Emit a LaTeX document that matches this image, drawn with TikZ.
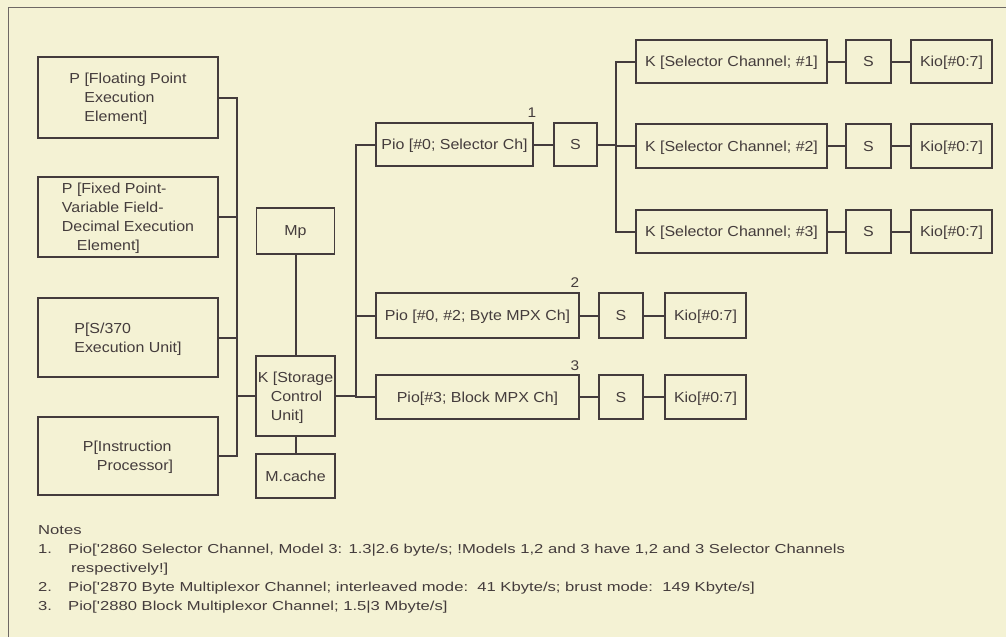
\documentclass[tikz,border=0pt]{standalone}
\usepackage{fontspec}
\setmainfont{Liberation Sans}[FakeStretch=1.1]
\newfontfamily\notefont[FakeStretch=1.28]{Liberation Sans}
\usetikzlibrary{calc}
\definecolor{bg}{RGB}{244,242,212}
\definecolor{ink}{RGB}{68,60,60}
\definecolor{framec}{RGB}{110,104,100}
\tikzset{
  box/.style={draw=ink, line width=1.2pt, inner sep=0pt, text=ink, align=left,
              text depth=0pt, font=\fontsize{14.5}{19}\selectfont},
  wire/.style={draw=ink, line width=2pt},
  lbl/.style={text=ink, inner sep=0pt, font=\fontsize{14}{14}\selectfont},
  framel/.style={draw=framec, line width=1pt}
}
\begin{document}
\begin{tikzpicture}[x=1pt,y=-1pt]
\fill[bg] (0,0) rectangle (1006,637);
\useasboundingbox (0,0) rectangle (1006,637);
\draw[framel] (8,637) -- (8,7) -- (1006,7);

% left processors
\node[box, minimum width=180pt, minimum height=81pt] (FP) at (128,97.5)
  {P [Floating Point\\\hspace*{15pt}Execution\\\hspace*{15pt}Element]};
\node[box, minimum width=180pt, minimum height=80pt] (FX) at (128,217)
  {P [Fixed Point-\\Variable Field-\\Decimal Execution\\\hspace*{15pt}Element]};
\node[box, minimum width=180pt, minimum height=79pt] (S370) at (128,337.5)
  {P[S/370\\Execution Unit]};
\node[box, minimum width=180pt, minimum height=78pt] (IP) at (128,456)
  {P[Instruction\\\hspace*{14pt}Processor]};

% memory / control
\node[box, minimum width=78pt, minimum height=46pt] (Mp) at (295.5,231) {Mp};
\node[box, minimum width=79pt, minimum height=80pt] (KSC) at (295.5,396)
  {K [Storage\\\hspace*{13pt}Control\\\hspace*{13pt}Unit]};
\node[box, minimum width=79pt, minimum height=44pt] (MC) at (295.5,476) {M.cache};

% Pio row 1
\node[box, minimum width=157pt, minimum height=43pt] (Pio0) at (454.5,144.5) {Pio [\#0; Selector Ch]};
\node[box, minimum width=43pt, minimum height=43pt] (S1) at (575.5,144.5) {S};

\node[box, minimum width=191pt, minimum height=43pt] (Kc1) at (731.5,61.5) {K [Selector Channel; \#1]};
\node[box, minimum width=45pt, minimum height=43pt] (Sc1) at (868.5,61.5) {S};
\node[box, minimum width=81pt, minimum height=43pt] (Kio1) at (951.5,61.5) {Kio[\#0:7]};

\node[box, minimum width=191pt, minimum height=44pt] (Kc2) at (731.5,146) {K [Selector Channel; \#2]};
\node[box, minimum width=45pt, minimum height=44pt] (Sc2) at (868.5,146) {S};
\node[box, minimum width=81pt, minimum height=44pt] (Kio2) at (951.5,146) {Kio[\#0:7]};

\node[box, minimum width=191pt, minimum height=43pt] (Kc3) at (731.5,231.5) {K [Selector Channel; \#3]};
\node[box, minimum width=45pt, minimum height=43pt] (Sc3) at (868.5,231.5) {S};
\node[box, minimum width=81pt, minimum height=43pt] (Kio3) at (951.5,231.5) {Kio[\#0:7]};

% Pio row 2
\node[box, minimum width=203pt, minimum height=45pt] (Pio2) at (477.5,315.5) {Pio [\#0, \#2; Byte MPX Ch]};
\node[box, minimum width=44pt, minimum height=45pt] (S2) at (621,315.5) {S};
\node[box, minimum width=81pt, minimum height=45pt] (Kio4) at (705.5,315.5) {Kio[\#0:7]};

% Pio row 3
\node[box, minimum width=203pt, minimum height=44pt] (Pio3) at (477.5,397) {Pio[\#3; Block MPX Ch]};
\node[box, minimum width=44pt, minimum height=44pt] (S3) at (621,397) {S};
\node[box, minimum width=81pt, minimum height=44pt] (Kio5) at (705.5,397) {Kio[\#0:7]};

% note labels
\node[lbl] (n1) at (532,113) {1};
\node[lbl] (n2) at (575,283) {2};
\node[lbl] (n3) at (575,366) {3};

% bus coordinates
\coordinate (bL) at (237,0);
\coordinate (bM) at (356,0);
\coordinate (bR) at (616,0);

% connectors
\draw[wire] (FP.east) -| (bL |- IP.east) -- (IP.east);
\draw[wire] (FX.east) -- (FX.east -| bL);
\draw[wire] (S370.east) -- (S370.east -| bL);
\draw[wire] (KSC.west) -- (KSC.west -| bL);
\draw[wire] (Mp.south) -- (Mp.south |- KSC.north);
\draw[wire] (KSC.south) -- (KSC.south |- MC.north);

\draw[wire] (Pio0.west) -| (bM |- Pio3.west) -- (Pio3.west);
\draw[wire] (Pio2.west) -- (Pio2.west -| bM);
\draw[wire] (KSC.east) -- (KSC.east -| bM);

\draw[wire] (Pio0.east) -- (S1.west);
\draw[wire] (Kc1.west) -| (bR |- Kc3.west) -- (Kc3.west);
\draw[wire] (Kc2.west) -- (Kc2.west -| bR);
\draw[wire] (S1.east) -- (S1.east -| bR);

\draw[wire] (Kc1.east) -- (Sc1.west);
\draw[wire] (Sc1.east) -- (Kio1.west);
\draw[wire] (Kc2.east) -- (Sc2.west);
\draw[wire] (Sc2.east) -- (Kio2.west);
\draw[wire] (Kc3.east) -- (Sc3.west);
\draw[wire] (Sc3.east) -- (Kio3.west);

\draw[wire] (Pio2.east) -- (S2.west);
\draw[wire] (S2.east) -- (Kio4.west);
\draw[wire] (Pio3.east) -- (S3.west);
\draw[wire] (S3.east) -- (Kio5.west);

% notes
\node[anchor=base west, inner sep=0pt, text=ink, font=\notefont\fontsize{13}{19}\selectfont] (notes) at (38,534)
  {\begin{tabular}[t]{@{}p{30pt}@{}l@{}}
   \multicolumn{2}{@{}l@{}}{Notes}\\
   1. & Pio['2860 Selector Channel, Model 3: 1.3|2.6 byte/s; !Models 1,2 and 3 have 1,2 and 3 Selector Channels\\
      & \hspace*{3pt}respectively!]\\
   2. & Pio['2870 Byte Multiplexor Channel; interleaved mode:\ \ 41 Kbyte/s; brust mode:\ \ 149 Kbyte/s]\\
   3. & Pio['2880 Block Multiplexor Channel; 1.5|3 Mbyte/s]
   \end{tabular}};
\end{tikzpicture}
\end{document}
